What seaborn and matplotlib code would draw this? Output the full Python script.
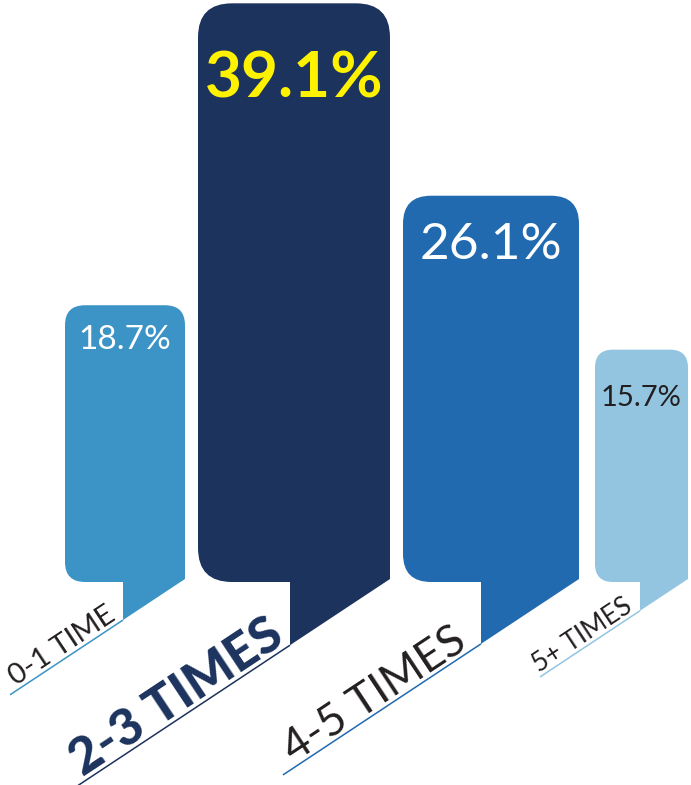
import numpy as np
import matplotlib
matplotlib.use("Agg")
import matplotlib.pyplot as plt
from matplotlib.patches import FancyBboxPatch, Polygon
import seaborn as sns

# ── data ─────────────────────────────────────────────────────────────────────
categories = ["0-1 TIME", "2-3 TIMES", "4-5 TIMES", "5+ TIMES"]
values     = [18.7, 39.1, 26.1, 15.7]
value_text = ["18.7%", "39.1%", "26.1%", "15.7%"]

# ── style / layout (pixel space, x) ─────────────────────────────────────────
colors      = ["#3B93C6", "#1C335E", "#216AB0", "#93C5E0"]
val_colors  = ["white", "#FFF200", "white", "#231F20"]
val_sizes   = [24, 46, 37, 21]
val_weights = ["normal", "bold", "normal", "normal"]
val_drop    = [44, 94, 63, 56]          # px from bar top to text baseline
lab_colors  = ["#231F20", "#1C335E", "#231F20", "#231F20"]
lab_sizes   = [21, 37, 32, 19]
lab_weights = ["normal", 900, "normal", "normal"]
lab_gap     = [6, 3, 12, 6]
bar_left    = [65, 198, 403, 595]
bar_right   = [185, 390, 579, 688]
tab_left    = [123, 290, 481, 640]
radius      = [20, 34, 28, 18]
under_len   = [113, 212, 198, 100]

W, H = 691, 785
BASE = 582                      # pixel row of bar bottoms
PX = 14.8                       # pixels per percent
SLOPE = np.tan(np.radians(33.5))
ANGLE = np.degrees(np.arctan(SLOPE))

sns.set_theme(style="white")
plt.rcParams["font.family"] = ["Lato", "DejaVu Sans"]

fig = plt.figure(figsize=(W / 100, H / 100), dpi=100)
ax = fig.add_axes([0, 0, 1, 1])
sns.barplot(x=categories, y=values, hue=categories, palette=colors,
            legend=False, ax=ax)

bars = list(ax.patches)
for i, p in enumerate(bars):
    h = p.get_height()
    p.remove()
    x0, x1, r = bar_left[i], bar_right[i], radius[i]
    ax.add_patch(FancyBboxPatch((x0, 0), x1 - x0, h,
                                boxstyle=f"round,pad=0,rounding_size={r}",
                                mutation_aspect=1 / PX,
                                fc=colors[i], ec="none", zorder=2))
    # slanted tab under the bar
    tl = tab_left[i]
    y_r = 3 / PX
    y_l = y_r - SLOPE * (x1 - tl) / PX
    ax.add_patch(Polygon([(tl, r / PX), (tl, y_l), (x1, y_r), (x1, r / PX)],
                         closed=True, fc=colors[i], ec="none", zorder=2))
    # underline continuing the slant
    L = under_len[i]
    ax.plot([tl, tl - L], [y_l, y_l - SLOPE * L / PX],
            color=colors[i], lw=1.1, solid_capstyle="butt", zorder=2)
    # category label
    g = lab_gap[i]
    ax.text(tl - g, y_l - SLOPE * g / PX + 5 / PX, categories[i],
            rotation=ANGLE, rotation_mode="anchor", ha="right", va="baseline",
            fontsize=lab_sizes[i], fontweight=lab_weights[i],
            color=lab_colors[i], zorder=3)
    # value label
    ax.text((x0 + x1) / 2, h - val_drop[i] / PX, value_text[i],
            ha="center", va="baseline", fontsize=val_sizes[i],
            fontweight=val_weights[i], color=val_colors[i], zorder=3)

ax.set_xlim(0, W)
ax.set_ylim((BASE - H) / PX, BASE / PX)
ax.axis("off")
fig.savefig("out.png", dpi=100, facecolor="white")
